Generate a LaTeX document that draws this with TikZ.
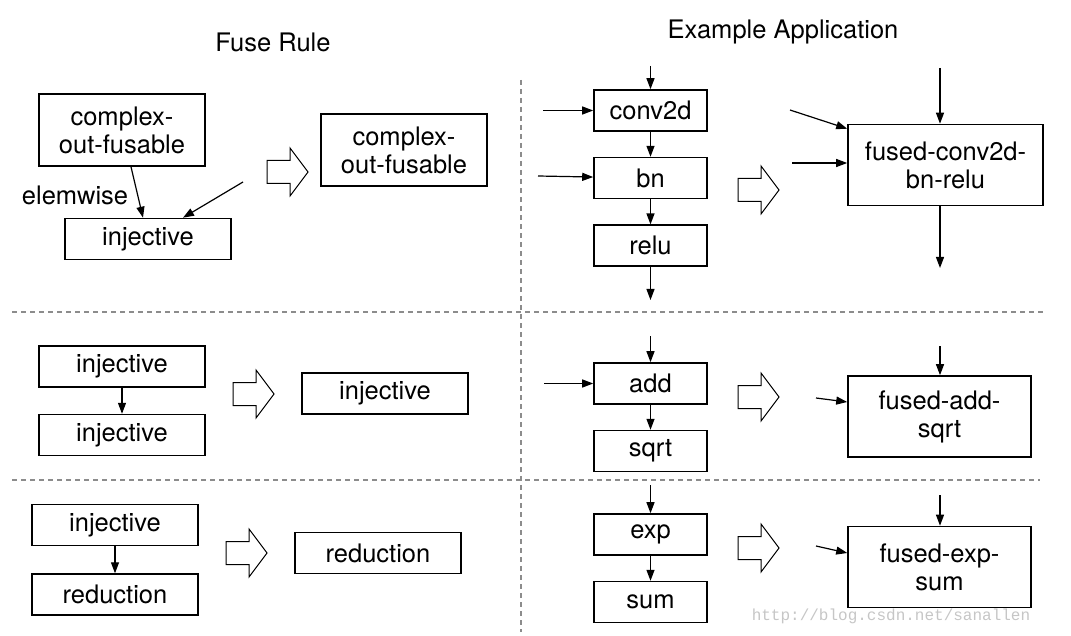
\documentclass[tikz,border=0pt]{standalone}
\usepackage{fontspec}
\setmainfont{TeX Gyre Heros}
\newfontfamily\markfont{Liberation Mono}
\usepackage{tikz}
\usetikzlibrary{positioning,arrows.meta}
\definecolor{sepgray}{HTML}{8c8c8c}

\begin{document}
\begin{tikzpicture}[
    x=1bp, y=-1bp,
    box/.style = {draw, line width=1.6bp, minimum height=41bp, align=center, inner sep=2bp,
                  font=\fontsize{25.5bp}{28bp}\selectfont},
    op/.style = {box, minimum width=113bp},
    rule/.style = {box, minimum width=166bp},
    fused/.style = {box, minimum width=183bp, minimum height=81bp},
    flow/.style = {-{Triangle[length=11bp, width=8bp]}, line width=1.2bp},
    sep/.style = {sepgray, dash pattern=on 5bp off 4bp, line width=1.3bp},
    title/.style = {font=\fontsize{25.5bp}{28bp}\selectfont},
    fatarrow/.pic = {\draw[line width=1bp, fill=white] (0,-11.5) -- (23,-11.5) -- (23,-24) -- (41,0)
                     -- (23,24) -- (23,11.5) -- (0,11.5) -- cycle;},
]
    \useasboundingbox (0,0) rectangle (1071,636);

    % titles
    \node[title] (ruletitle) at (273,42) {Fuse Rule};
    \node[title] (apptitle) at (783,32) {Example Application};

    % separators
    \draw[sep] (521,80) -- (521,632);
    \draw[sep] (12,312) -- (1045,312);
    \draw[sep] (12,480) -- (1040,480);

    % rule 1
    \node[rule, minimum height=72bp] (cof1) at (122,130) {complex-\\out-fusable};
    \node[rule] (inj1) at (148,239) {injective};
    \node[title] (elem) at (75,195) {elemwise};
    \node[rule, minimum height=72bp] (cof2) at (404,150) {complex-\\out-fusable};
    \coordinate (in1) at (243,182);
    \pic (fa1) at (267,172) {fatarrow};
    \draw[flow] ([xshift=9bp]cof1.south) -- ([xshift=-5bp]inj1.north);
    \draw[flow] (in1) -- ([xshift=35bp]inj1.north);

    % example 1
    \node[op] (conv) at (650.5,110.5) {conv2d};
    \node[op, below=25bp of conv] (bn) {bn};
    \node[op, below=25bp of bn] (relu) {relu};
    \node[fused, minimum width=195bp] (fcbr) at (945.5,165) {fused-conv2d-\\bn-relu};
    \pic (fa2) at (738,190) {fatarrow};
    \coordinate (convin) at (650.5,66);
    \coordinate (convleft) at (543,110.5);
    \coordinate (bnleft) at (538,176);
    \coordinate (reluout) at (650.5,300);
    \coordinate (fcbrin) at (940,68);
    \coordinate (fcbrleft1) at (790,110);
    \coordinate (fcbrleft2) at (792,163);
    \coordinate (fcbrout) at (940,268);
    \draw[flow] (convin) -- (conv);
    \draw[flow] (convleft) -- (conv);
    \draw[flow] (bnleft) -- (bn);
    \draw[flow] (conv) -- (bn);
    \draw[flow] (bn) -- (relu);
    \draw[flow] (relu) -- (reluout);
    \draw[flow] (fcbrin) -- (fcbrin |- fcbr.north);
    \draw[flow] (fcbrleft1) -- ([yshift=-5bp]fcbr.north west);
    \draw[flow] (fcbrleft2) -- (fcbrleft2 -| fcbr.west);
    \draw[flow] (fcbrout |- fcbr.south) -- (fcbrout);

    % rule 2
    \node[rule] (inj2a) at (122,366.5) {injective};
    \node[rule, below=26bp of inj2a] (inj2b) {injective};
    \node[rule] (inj2c) at (385,393.5) {injective};
    \pic (fa3) at (233,394) {fatarrow};
    \draw[flow] (inj2a) -- (inj2b);

    % example 2
    \node[op] (add) at (650.5,383.5) {add};
    \node[op, below=25bp of add] (sqrt) {sqrt};
    \node[fused] (fas) at (939.5,416.5) {fused-add-\\sqrt};
    \pic (fa4) at (738,397) {fatarrow};
    \coordinate (addin) at (650.5,336);
    \coordinate (addleft) at (544,383.5);
    \coordinate (fasin) at (940,346);
    \coordinate (fasleft) at (816,398);
    \draw[flow] (addin) -- (add);
    \draw[flow] (addleft) -- (add);
    \draw[flow] (add) -- (sqrt);
    \draw[flow] (fasin) -- (fasin |- fas.north);
    \draw[flow] (fasleft) -- (fas.west |- 0,402);

    % rule 3
    \node[rule] (inj3) at (115,525) {injective};
    \node[rule, below=27bp of inj3] (red3a) {reduction};
    \node[rule] (red3b) at (378,553) {reduction};
    \pic (fa5) at (226,553) {fatarrow};
    \draw[flow] (inj3) -- (red3a);

    % example 3
    \node[op] (exp) at (650.5,534.5) {exp};
    \node[op, below=25bp of exp] (sum) {sum};
    \node[fused] (fes) at (939.5,567) {fused-exp-\\sum};
    \pic (fa6) at (738,548) {fatarrow};
    \coordinate (expin) at (650.5,485);
    \coordinate (fesin) at (940,495);
    \coordinate (fesleft) at (816,546);
    \draw[flow] (expin) -- (exp);
    \draw[flow] (exp) -- (sum);
    \draw[flow] (fesin) -- (fesin |- fes.north);
    \draw[flow] (fesleft) -- (fes.west |- 0,553);

    % watermark
    \node[text=gray!45, font=\markfont\fontsize{16bp}{18bp}\selectfont] (mark) at (891,616) {http://blog.csdn.net/sanallen};

\end{tikzpicture}
\end{document}
